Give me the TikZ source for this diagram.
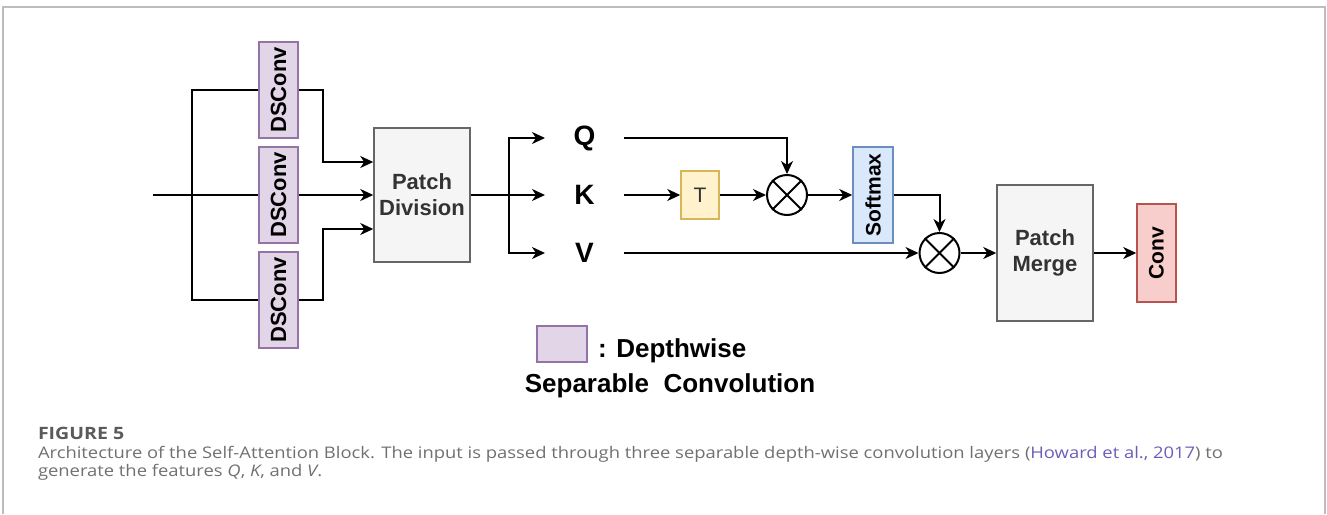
\documentclass[tikz,border=0pt]{standalone}
\usepackage{fontspec}
\usepackage{graphicx}
\setmainfont{Liberation Sans}
\newfontfamily\capfont[FakeStretch=1.15]{Open Sans}
\usetikzlibrary{arrows.meta}

\definecolor{dsfill}{HTML}{E1D5E7}
\definecolor{dsdraw}{HTML}{9673A6}
\definecolor{pfill}{HTML}{F5F5F5}
\definecolor{pdraw}{HTML}{666666}
\definecolor{tfill}{HTML}{FFF2CC}
\definecolor{tdraw}{HTML}{D6B656}
\definecolor{sfill}{HTML}{DAE8FC}
\definecolor{sdraw}{HTML}{6C8EBF}
\definecolor{cfill}{HTML}{F8CECC}
\definecolor{cdraw}{HTML}{B85450}
\definecolor{framec}{HTML}{BDBDBD}
\definecolor{capgray}{HTML}{707070}
\definecolor{capdark}{HTML}{5A5A5A}
\definecolor{linkc}{HTML}{6A5FB8}
\definecolor{boxtext}{HTML}{333333}

\begin{document}
\begin{tikzpicture}[x=1pt,y=-1pt,line width=2pt,
  arr/.style={-{Stealth[length=13pt,width=12pt,inset=4pt]}},
  box/.style={line width=1.5pt,inner sep=0pt,align=center},
  dsbox/.style={box,draw=dsdraw,fill=dsfill,minimum width=39pt,minimum height=96pt,
    font=\fontsize{22}{26}\selectfont\bfseries},
  patchbox/.style={box,draw=pdraw,fill=pfill,minimum width=96pt,text=boxtext,
    font=\fontsize{22}{26}\selectfont\bfseries},
  letter/.style={inner sep=0pt,minimum width=77pt,minimum height=30pt,
    font=\fontsize{28}{30}\selectfont\bfseries},
  mult/.style={circle,draw,line width=2pt,minimum size=40pt,inner sep=0pt},
  legendtext/.style={inner sep=0pt,font=\fontsize{26}{30}\selectfont\bfseries},
  captext/.style={inner sep=0pt,anchor=base west,text=capgray,
    font=\capfont\fontsize{16}{18}\selectfont}
]
\useasboundingbox (0,0) rectangle (1327,514);

% page frame
\draw[framec,line width=1.5pt] (3,514) -- (3,7) -- (1325,7) -- (1325,514);

% depthwise separable convolutions
\node[dsbox] (d1) at (278.5,90)  {\rotatebox{90}{DSConv}};
\node[dsbox] (d2) at (278.5,195) {\rotatebox{90}{DSConv}};
\node[dsbox] (d3) at (278.5,300) {\rotatebox{90}{DSConv}};

\node[patchbox,minimum height=134pt] (pd) at (422,195) {Patch\\Division};

% input and branching bus
\coordinate (in) at (153,195);
\coordinate (bt) at (192,90);
\coordinate (bb) at (192,300);
\draw (in) -- (d2.west);
\draw (d1.west) -- (bt) -- (bb) -- (d3.west);

\draw[arr] (d1.east) -- ++(24,0) |- ([yshift=33pt]pd.west);
\draw[arr] (d2.east) -- (pd.west);
\draw[arr] (d3.east) -- ++(24,0) |- ([yshift=-34pt]pd.west);

% query, key, value
\node[letter] (q) at (584.5,138) {Q};
\node[letter] (k) at (584.5,195) {K};
\node[letter] (v) at (584.5,253) {V};

\coordinate (split) at (509,195);
\draw (pd.east) -- (split);
\draw[arr] (split) |- (q.west);
\draw[arr] (split) -- (k.west);
\draw[arr] (split) |- (v.west);

% attention
\node[box,draw=tdraw,fill=tfill,minimum width=38pt,minimum height=48pt,text=boxtext,
  font=\fontsize{21}{24}\selectfont] (t) at (700,195) {T};
\node[mult] (m1) at (787,195) {};
\draw[line width=2pt] (m1.north east) -- (m1.south west) (m1.north west) -- (m1.south east);
\node[box,draw=sdraw,fill=sfill,minimum width=40pt,minimum height=96pt,
  font=\fontsize{21}{24}\selectfont\bfseries] (sm) at (873,195) {\rotatebox{90}{Softmax}};
\node[mult] (m2) at (939.5,253) {};
\draw[line width=2pt] (m2.north east) -- (m2.south west) (m2.north west) -- (m2.south east);

\node[patchbox,minimum height=136pt] (pm) at (1045,253) {Patch\\Merge};
\node[box,draw=cdraw,fill=cfill,minimum width=39pt,minimum height=98pt,
  font=\fontsize{21}{24}\selectfont\bfseries] (cv) at (1156.5,253) {\rotatebox{90}{Conv}};

\draw[arr] (q.east) -| (m1.north);
\draw[arr] (k.east) -- (t.west);
\draw[arr] (t.east) -- (m1.west);
\draw[arr] (m1.east) -- (sm.west);
\draw[arr] (sm.east) -| (m2.north);
\draw[arr] (v.east) -- (m2.west);
\draw[arr] (m2.east) -- (pm.west);
\draw[arr] (pm.east) -- (cv.west);

% legend
\node[box,draw=dsdraw,fill=dsfill,minimum width=50pt,minimum height=36pt] (lg) at (562,344) {};
\node[legendtext,anchor=base west] (lg1) at (597,357) {: Depthwise};
\node[legendtext,anchor=base] (lg2) at (670,392) {Separable\ \ Convolution};

% caption
\node[captext,text=capdark,font=\capfont\fontsize{17}{20}\selectfont\bfseries] (fig) at (37,439) {FIGURE 5};
\node[captext] (cap1) at (37,458) {Architecture of the Self-Attention Block. The input is passed through three separable depth-wise convolution layers (\textcolor{linkc}{Howard et al., 2017}) to};
\node[captext] (cap2) at (37,476) {generate the features \textit{Q}, \textit{K}, and \textit{V}.};
\end{tikzpicture}
\end{document}
